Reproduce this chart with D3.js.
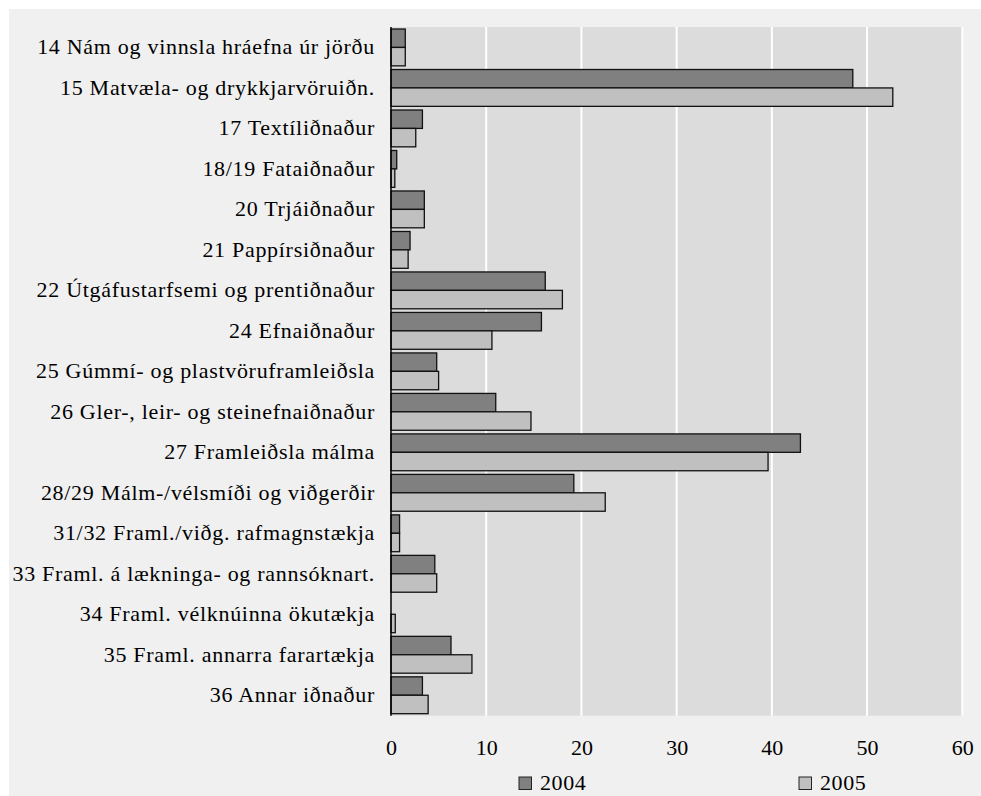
<!DOCTYPE html>
<html>
<head>
<meta charset="utf-8">
<script src="https://cdn.jsdelivr.net/npm/d3@7"></script>
<style>
  body { margin: 0; background: #fff; }
  text { font-family: "Liberation Serif", "Times New Roman", serif; fill: #000; }
</style>
</head>
<body>
<div id="chart"></div>
<script>
// data (share, %)
var categories = [
  "14 Nám og vinnsla hráefna úr jörðu",
  "15 Matvæla- og drykkjarvöruiðn.",
  "17 Textíliðnaður",
  "18/19 Fataiðnaður",
  "20 Trjáiðnaður",
  "21 Pappírsiðnaður",
  "22 Útgáfustarfsemi og prentiðnaður",
  "24 Efnaiðnaður",
  "25 Gúmmí- og plastvöruframleiðsla",
  "26 Gler-, leir- og steinefnaiðnaður",
  "27 Framleiðsla málma",
  "28/29 Málm-/vélsmíði og viðgerðir",
  "31/32 Framl./viðg. rafmagnstækja",
  "33 Framl. á lækninga- og rannsóknart.",
  "34 Framl. vélknúinna ökutækja",
  "35 Framl. annarra farartækja",
  "36 Annar iðnaður"
];
var values2004 = [1.5, 48.5, 3.3, 0.6, 3.5, 2.0, 16.2, 15.8, 4.8, 11.0, 43.0, 19.2, 0.9, 4.6, 0, 6.3, 3.3];
var values2005 = [1.5, 52.7, 2.6, 0.4, 3.5, 1.8, 18.0, 10.6, 5.0, 14.7, 39.6, 22.5, 0.9, 4.8, 0.45, 8.5, 3.9];
var seriesNames = ["2004", "2005"];
var seriesColors = ["#808080", "#c0c0c0"];
var xTicks = [0, 10, 20, 30, 40, 50, 60];

var svgWidth = 981;
var svgHeight = 796;

var margin = { top: 27, right: 18.7, bottom: 80.3, left: 391 };
var width = svgWidth - margin.left - margin.right;
var height = svgHeight - margin.top - margin.bottom;

var svg = d3.select("#chart")
  .append("svg")
  .attr("width", svgWidth)
  .attr("height", svgHeight);

// outer grey panel
svg.append("rect")
  .attr("x", 9).attr("y", 9)
  .attr("width", svgWidth - 9).attr("height", svgHeight - 9)
  .attr("fill", "#f0f0f0");

var chartGroup = svg.append("g")
  .attr("transform", `translate(${margin.left}, ${margin.top})`);

chartGroup.append("rect")
  .attr("width", width).attr("height", height)
  .attr("fill", "#dcdcdc");

// scales
var xScale = d3.scaleLinear().domain([0, 60]).range([0, width]);
var yScale = d3.scaleBand().domain(categories).range([0, height])
  .paddingInner(0.09).paddingOuter(0.05);
var ySub = d3.scaleBand().domain(seriesNames).range([0, yScale.bandwidth()]);

// gridlines
chartGroup.selectAll(".grid")
  .data(xTicks.slice(1))
  .enter()
  .append("line")
  .attr("x1", d => xScale(d)).attr("x2", d => xScale(d))
  .attr("y1", 0).attr("y2", height)
  .attr("stroke", "#fff").attr("stroke-width", 2);

// bars
var rows = [];
categories.forEach(function(c, i) {
  rows.push({ cat: c, s: "2004", v: values2004[i] });
  rows.push({ cat: c, s: "2005", v: values2005[i] });
});

chartGroup.selectAll(".bar")
  .data(rows.filter(d => d.v > 0))
  .enter()
  .append("rect")
  .attr("class", "bar")
  .attr("x", 0)
  .attr("y", d => yScale(d.cat) + ySub(d.s))
  .attr("width", d => xScale(d.v))
  .attr("height", ySub.bandwidth())
  .attr("fill", d => seriesColors[seriesNames.indexOf(d.s)])
  .attr("stroke", "#111")
  .attr("stroke-width", 1.3);

// left axis line + category labels
chartGroup.append("line")
  .attr("x1", 0).attr("x2", 0).attr("y1", 0).attr("y2", height)
  .attr("stroke", "#000").attr("stroke-width", 1.5);

var leftAxis = d3.axisLeft(yScale).tickSize(0).tickPadding(16);
var yAxisG = chartGroup.append("g").call(leftAxis);
yAxisG.select(".domain").remove();
yAxisG.selectAll("text")
  .style("font-family", "Liberation Serif")
  .style("font-size", "22px")
  .style("letter-spacing", "0.7px")
  .attr("fill", "#000");

// bottom tick labels
var bottomAxis = d3.axisBottom(xScale).tickValues(xTicks).tickSize(0).tickPadding(24);
var xAxisG = chartGroup.append("g")
  .attr("transform", `translate(0, ${height})`)
  .call(bottomAxis);
xAxisG.select(".domain").remove();
xAxisG.selectAll("text")
  .style("font-family", "Liberation Serif")
  .style("font-size", "22px")
  .attr("fill", "#000");

// legend
var legendX = [519, 799];
var legend = svg.selectAll(".legend")
  .data(seriesNames)
  .enter()
  .append("g")
  .attr("transform", (d, i) => `translate(${legendX[i]}, 777)`);
legend.append("rect")
  .attr("width", 12.5).attr("height", 12.5)
  .attr("fill", (d, i) => seriesColors[i])
  .attr("stroke", "#222").attr("stroke-width", 1);
legend.append("text")
  .attr("x", 21).attr("y", 13)
  .style("font-size", "22px")
  .style("letter-spacing", "0.6px")
  .text(d => d);
</script>
</body>
</html>
